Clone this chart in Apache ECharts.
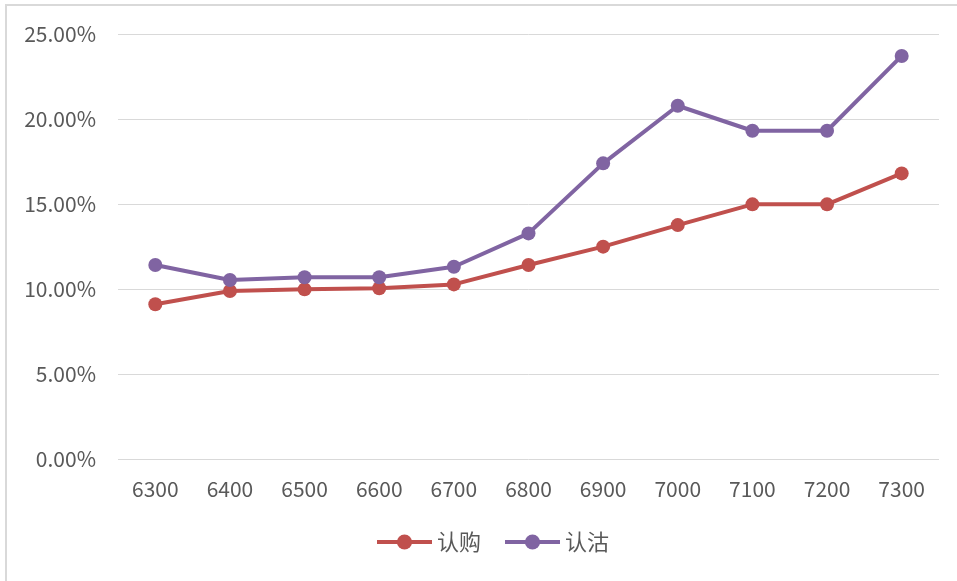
<!DOCTYPE html>
<html>
<head>
<meta charset="utf-8">
<script src="https://cdn.jsdelivr.net/npm/echarts@6/dist/echarts.min.js"></script>
<style>
  html, body { margin: 0; padding: 0; background: #ffffff; }
  #chart { width: 957px; height: 581px; }
</style>
</head>
<body>
<div id="chart"></div>
<script>
// Strike prices on the category axis
const strikes = ['6300', '6400', '6500', '6600', '6700', '6800', '6900', '7000', '7100', '7200', '7300'];
// Implied volatility (%) for calls and puts
const callValues = [9.10, 9.88, 9.98, 10.04, 10.27, 11.41, 12.49, 13.76, 14.98, 14.98, 16.80];
const putValues = [11.41, 10.53, 10.69, 10.69, 11.31, 13.27, 17.39, 20.78, 19.31, 19.31, 23.71];
const seriesNames = ['认购', '认沽'];
const seriesColors = ['#C0504D', '#8064A2'];

const font = '"Noto Sans CJK SC", "Noto Sans", sans-serif';
const labelColor = '#595959';
const chart = echarts.init(document.getElementById('chart'), null, { renderer: 'canvas' });

function lineSeries(name, data, color) {
  return {
    name: name,
    type: 'line',
    data: data,
    symbol: 'circle',
    symbolSize: 14,
    lineStyle: { width: 4, color: color },
    itemStyle: { color: color },
    emphasis: { disabled: true },
    animation: false
  };
}

chart.setOption({
  animation: false,
  backgroundColor: '#ffffff',
  graphic: [{
    type: 'rect',
    shape: { x: 6, y: 5, width: 970, height: 600 },
    style: { fill: 'none', stroke: '#d9d9d9', lineWidth: 2 },
    silent: true
  }],
  grid: { left: 118, right: 18, top: 34, bottom: 122 },
  legend: {
    data: seriesNames,
    top: 531,
    left: 375,
    padding: 0,
    itemWidth: 55,
    itemHeight: 19,
    itemGap: 22,
    lineStyle: { width: 4 },
    textStyle: { color: labelColor, fontSize: 22, fontFamily: font, padding: [0, 0, 0, 0] }
  },
  xAxis: {
    type: 'category',
    data: strikes,
    boundaryGap: true,
    axisLine: { show: false },
    axisTick: { show: false },
    axisLabel: { color: labelColor, fontSize: 21, fontFamily: font, margin: 20 }
  },
  yAxis: {
    type: 'value',
    min: 0,
    max: 25,
    interval: 5,
    axisLine: { show: false },
    axisTick: { show: false },
    splitLine: { lineStyle: { color: '#d9d9d9', width: 1 } },
    axisLabel: {
      color: labelColor, fontSize: 21, fontFamily: font, margin: 22,
      formatter: v => v.toFixed(2) + '%'
    }
  },
  series: [
    lineSeries(seriesNames[0], callValues, seriesColors[0]),
    lineSeries(seriesNames[1], putValues, seriesColors[1])
  ]
});
</script>
</body>
</html>
